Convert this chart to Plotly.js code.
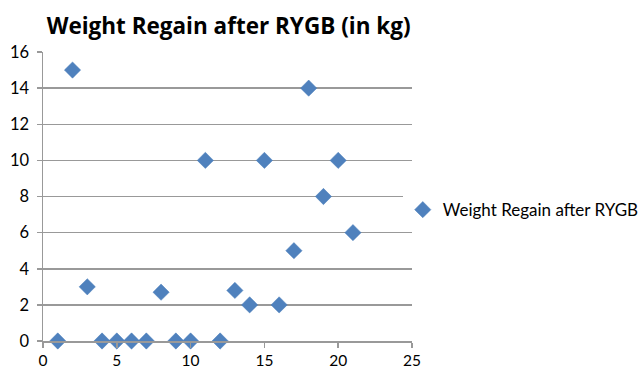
<!DOCTYPE html>
<html><head><meta charset="utf-8">
<script src="https://cdn.plot.ly/plotly-3.0.1.min.js"></script>
<style>html,body{margin:0;padding:0;background:#fff;}#chart{width:644px;height:367px;}</style>
</head><body><div id="chart"></div>
<script>
const xValues = [1,2,3,4,5,6,7,8,9,10,11,12,13,14,15,16,17,18,19,20,21];
const yValues = [0,15,3,0,0,0,0,2.7,0,0,10,0,2.8,2,10,2,5,14,8,10,6];
const seriesName = 'Weight Regain after RYGB';
const chartTitle = 'Weight Regain after RYGB (in kg)';
const xTicks = [0,5,10,15,20,25];
const yTicks = [0,2,4,6,8,10,12,14,16];
const fontFam = 'Lato, "Open Sans", sans-serif';
Plotly.newPlot('chart', [{
  x: xValues, y: yValues, type: 'scatter', mode: 'markers', name: seriesName,
  marker: {symbol: 'diamond', size: 12.5, color: '#4F81BD', line: {color: '#4A7EBB', width: 0.5}},
  cliponaxis: false
}], {
  width: 644, height: 367,
  margin: {l: 43, r: 232, t: 52, b: 26, autoexpand: false},
  paper_bgcolor: '#fff', plot_bgcolor: '#fff',
  title: {text: '<b>' + chartTitle + '</b>', font: {family: '"Open Sans", Lato, sans-serif', size: 22.5, color: '#000'}, x: 0.355, xanchor: 'center', y: 0.93, yanchor: 'middle'},
  showlegend: true,
  legend: {x: 0.975, xanchor: 'left', y: 0.453, yanchor: 'middle', font: {family: fontFam, size: 17, color: '#000'}, itemwidth: 30, itemsizing: 'trace', tracegroupgap: 0},
  xaxis: {range: [0, 25], tickvals: xTicks, showgrid: false, zeroline: false,
    showline: true, linecolor: '#999', linewidth: 1.5, ticks: 'outside', ticklen: 5, tickcolor: '#999', tickwidth: 1.5,
    ticklabelstandoff: 0,
    tickfont: {family: fontFam, size: 15.5, color: '#000'}, fixedrange: true},
  yaxis: {range: [0, 16], tickvals: yTicks, showgrid: true, gridcolor: '#999', gridwidth: 1.5,
    zeroline: false, showline: true, linecolor: '#999', linewidth: 1.5, ticks: 'outside', ticklen: 5, tickcolor: '#999', tickwidth: 1.5,
    ticklabelstandoff: 4,
    tickfont: {family: fontFam, size: 16.5, color: '#000'}, fixedrange: true},
  font: {family: fontFam}
}, {displayModeBar: false, staticPlot: true});
</script></body></html>
